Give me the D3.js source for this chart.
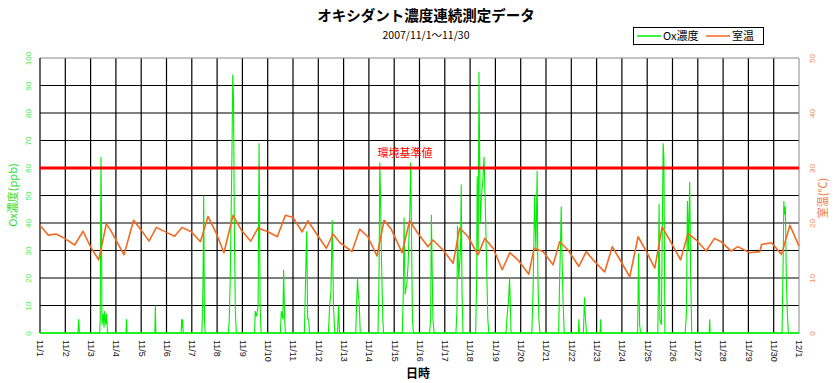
<!DOCTYPE html>
<html><head><meta charset="utf-8">
<script src="https://cdn.jsdelivr.net/npm/d3@7"></script>
<style>
html,body{margin:0;padding:0;background:#fff;}
svg{display:block;font-family:"Noto Sans CJK JP","Liberation Sans",sans-serif;}
</style></head>
<body>
<svg id="chart" width="836" height="383"></svg>
<script>
// ---- data ----
const dayLabels = ["11/1","11/2","11/3","11/4","11/5","11/6","11/7","11/8","11/9","11/10","11/11","11/12","11/13","11/14","11/15","11/16","11/17","11/18","11/19","11/20","11/21","11/22","11/23","11/24","11/25","11/26","11/27","11/28","11/29","11/30","12/1"];
const leftTicks = [0,10,20,30,40,50,60,70,80,90,100];
const rightTicks = [0,10,20,30,40,50];
const standardValue = 60;

// temperature (day offset from 11/1 00:00, °C)
const tempTime = [0,0.32,0.64,0.97,1.37,1.70,2.03,2.32,2.62,2.79,3.32,3.70,4.00,4.31,4.60,5.00,5.32,5.61,5.98,6.34,6.64,6.97,7.27,7.63,7.96,8.33,8.62,9.01,9.38,9.70,10.00,10.36,10.59,10.92,11.32,11.58,11.84,12.33,12.64,12.96,13.32,13.60,13.88,14.31,14.61,14.94,15.34,15.53,15.93,16.33,16.59,16.92,17.31,17.58,17.91,18.27,18.57,18.89,19.32,19.53,19.88,20.28,20.54,20.87,21.30,21.59,21.86,22.32,22.62,22.90,23.31,23.64,23.97,24.30,24.59,24.89,25.32,25.61,25.94,26.33,26.66,26.92,27.32,27.58,28.05,28.45,28.52,28.91,29.31,29.64,30.00];
const tempVal  = [19.6,17.8,18.0,17.2,16.0,18.5,15.4,13.3,19.8,18.7,14.2,20.5,18.7,16.7,19.2,18.3,17.6,19.2,18.4,16.6,21.2,18.1,14.6,21.4,18.7,16.7,19.1,18.4,17.5,21.4,21.0,18.4,20.4,18.1,15.4,18.0,16.5,14.8,18.9,17.5,14.0,20.5,18.9,14.6,20.4,18.1,15.7,16.9,15.1,12.7,19.1,17.5,14.2,17.2,15.4,11.5,14.6,13.3,10.7,15.4,14.8,12.4,16.6,15.1,12.1,14.8,13.3,11.1,15.7,13.5,10.2,17.5,14.8,11.8,19.3,16.9,13.3,18.1,16.9,14.9,17.2,16.6,14.9,15.7,14.6,14.8,16.1,16.4,14.3,19.6,15.8];

// Ox concentration (day offset, ppb)
const oxTime = [0,1.50,1.53,1.56,2.36,2.38,2.41,2.43,2.45,2.50,2.53,2.56,2.60,2.63,2.67,3.40,3.42,3.44,4.54,4.56,4.58,5.58,5.60,5.62,5.64,5.66,6.40,6.44,6.47,6.50,6.53,7.45,7.48,7.52,7.58,7.62,7.65,7.68,7.72,7.76,8.48,8.51,8.56,8.62,8.66,8.70,8.74,9.50,9.54,9.60,9.63,9.67,9.70,10.45,10.50,10.54,10.58,10.62,10.65,11.40,11.45,11.50,11.55,11.60,11.65,11.76,11.80,11.84,12.48,12.52,12.55,12.58,12.62,12.66,13.36,13.40,13.43,13.46,13.50,13.55,13.58,14.32,14.36,14.39,14.43,14.50,14.55,14.62,14.65,14.68,14.72,14.76,15.40,15.44,15.47,15.50,15.53,15.58,16.44,16.48,16.50,16.55,16.62,16.65,16.68,16.72,17.22,17.26,17.28,17.32,17.35,17.40,17.45,17.50,17.55,17.60,17.64,17.70,17.74,18.42,18.47,18.52,18.56,18.59,18.62,19.44,19.49,19.55,19.60,19.65,19.68,19.72,19.76,20.50,20.54,20.58,20.60,20.64,20.68,20.72,21.28,21.30,21.32,21.48,21.52,21.56,21.60,22.14,22.16,22.18,23.62,23.66,23.70,23.74,24.42,24.47,24.50,24.56,24.63,24.66,24.70,25.50,25.55,25.59,25.63,25.68,25.72,25.76,26.45,26.47,26.49,29.33,29.38,29.40,29.43,29.46,29.50,29.54,29.58,30.00];
const oxVal  = [0,0,5,0,0,5,64,43,3,7,2,8,3,7,0,0,5,0,0,10,0,0,5,2,5,0,0,16,50,5,0,0,5,20,60,94,85,40,8,0,0,8,6,10,69,10,0,0,8,5,23,5,0,0,21,37,5,5,0,0,10,15,41,10,0,0,10,0,0,12,20,14,10,0,0,20,62,50,25,5,0,0,15,42,14,18,25,45,62,40,5,0,0,5,43,24,5,0,0,8,39,20,30,54,15,0,0,20,57,30,95,40,50,55,64,47,30,5,0,0,7,12,20,10,0,0,16,50,30,59,20,5,0,0,20,35,46,25,10,0,0,5,0,0,13,5,0,0,5,0,0,29,3,0,0,47,5,3,69,64,0,0,7,48,30,55,20,0,0,5,0,0,30,48,43,46,20,7,0,0];

// ---- layout ----
const svg = d3.select("#chart");
const L = 40, R = 799, T = 58, B = 333;
const x = d3.scaleLinear().domain([0, 30]).range([L, R]);
const yL = d3.scaleLinear().domain([0, 100]).range([B, T]);
const yR = d3.scaleLinear().domain([0, 50]).range([B, T]);
const green = "#00ee00", orange = "#f26a22";

// grid
const grid = svg.append("g");
grid.selectAll("line.v").data(d3.range(1, 30)).join("line")
  .attr("x1", d => x(d)).attr("x2", d => x(d)).attr("y1", T).attr("y2", B)
  .attr("stroke", "#000").attr("stroke-width", 1.2);
grid.selectAll("line.h").data(leftTicks.slice(1, -1)).join("line")
  .attr("x1", L).attr("x2", R).attr("y1", d => yL(d)).attr("y2", d => yL(d))
  .attr("stroke", "#000").attr("stroke-width", 1.2);
// frame
svg.append("line").attr("x1", L).attr("x2", R).attr("y1", T).attr("y2", T).attr("stroke", "#888").attr("stroke-width", 1);
svg.append("line").attr("x1", R).attr("x2", R).attr("y1", T).attr("y2", B).attr("stroke", "#888").attr("stroke-width", 1);
svg.append("line").attr("x1", L).attr("x2", L).attr("y1", T).attr("y2", B).attr("stroke", "#000").attr("stroke-width", 1.2);

// series
const oxData = oxTime.map((t, i) => [t, oxVal[i]]);
const tempData = tempTime.map((t, i) => [t, tempVal[i]]);
svg.append("path").datum(oxData)
  .attr("d", d3.line().x(d => x(d[0])).y(d => yL(d[1])))
  .attr("fill", "none").attr("stroke", green).attr("stroke-width", 1.1);
svg.append("path").datum(tempData)
  .attr("d", d3.line().x(d => x(d[0])).y(d => yR(d[1])))
  .attr("fill", "none").attr("stroke", orange).attr("stroke-width", 1.6)
  .attr("stroke-linejoin", "round");

// standard line
svg.append("line").attr("x1", L).attr("x2", R)
  .attr("y1", yL(standardValue)).attr("y2", yL(standardValue))
  .attr("stroke", "#ff0000").attr("stroke-width", 3);
svg.append("text").attr("x", 405).attr("y", yL(standardValue) - 11)
  .attr("text-anchor", "middle").attr("fill", "#ff0000").attr("font-size", 11)
  .text("環境基準値");

// bottom axis line
svg.append("line").attr("x1", L).attr("x2", R).attr("y1", B).attr("y2", B).attr("stroke", green).attr("stroke-width", 1.5);

// x axis labels
const xAxis = d3.axisBottom(x).tickValues(d3.range(0, 31)).tickSize(0).tickFormat(d => dayLabels[d]);
const gx = svg.append("g").attr("transform", `translate(0,${B})`).call(xAxis);
gx.select(".domain").remove();
gx.selectAll("text")
  .attr("transform", "translate(0,7) rotate(90)")
  .attr("x", 0).attr("y", 0).attr("dy", "0.35em")
  .attr("text-anchor", "start")
  .attr("font-size", 9).attr("font-family", "Liberation Sans, Arial, sans-serif").attr("fill", "#111");

// left axis labels
const yAxisL = d3.axisLeft(yL).tickValues(leftTicks).tickSize(0);
const gl = svg.append("g").attr("transform", `translate(${L},0)`).call(yAxisL);
gl.select(".domain").remove();
gl.selectAll("text")
  .attr("transform", "translate(-12,0) rotate(-90)")
  .attr("x", 0).attr("y", 0).attr("dy", "0.35em")
  .attr("text-anchor", "middle")
  .attr("font-size", 8).attr("font-family", "Liberation Sans, Arial, sans-serif").attr("fill", "#44e844");

// right axis labels
const yAxisR = d3.axisRight(yR).tickValues(rightTicks).tickSize(0);
const gr = svg.append("g").attr("transform", `translate(${R},0)`).call(yAxisR);
gr.select(".domain").remove();
gr.selectAll("text")
  .attr("transform", "translate(13,0) rotate(-90)")
  .attr("x", 0).attr("y", 0).attr("dy", "0.35em")
  .attr("text-anchor", "middle")
  .attr("font-size", 8).attr("font-family", "Liberation Sans, Arial, sans-serif").attr("fill", "#f08a55");

// axis titles
svg.append("text").attr("transform", "translate(13,195) rotate(-90)")
  .attr("text-anchor", "middle").attr("dy", "0.35em").attr("font-size", 11).attr("fill", "#33dd33")
  .text("Ox濃度(ppb)");
svg.append("text").attr("transform", "translate(823,198) rotate(-90)")
  .attr("text-anchor", "middle").attr("dy", "0.35em").attr("font-size", 11).attr("fill", "#f07a40")
  .text("室温(℃)");
svg.append("text").attr("x", 418).attr("y", 378)
  .attr("text-anchor", "middle").attr("font-size", 12).attr("font-weight", "bold").attr("fill", "#000")
  .text("日時");

// title
svg.append("text").attr("x", 426).attr("y", 21)
  .attr("text-anchor", "middle").attr("font-size", 14.5).attr("font-weight", "bold").attr("fill", "#000")
  .text("オキシダント濃度連続測定データ");
svg.append("text").attr("x", 426).attr("y", 39)
  .attr("text-anchor", "middle").attr("font-size", 10.5).attr("fill", "#000")
  .text("2007/11/1～11/30");

// legend
const lg = svg.append("g");
lg.append("rect").attr("x", 633.5).attr("y", 27.5).attr("width", 130).attr("height", 17)
  .attr("fill", "#fff").attr("stroke", "#000").attr("stroke-width", 1);
const legendItems = [{name: "Ox濃度", color: green, x: 637}, {name: "室温", color: orange, x: 706}];
legendItems.forEach(it => {
  lg.append("line").attr("x1", it.x).attr("x2", it.x + 24).attr("y1", 36).attr("y2", 36)
    .attr("stroke", it.color).attr("stroke-width", 1.5);
  lg.append("text").attr("x", it.x + 26).attr("y", 36).attr("dy", "0.35em")
    .attr("font-size", 11).attr("fill", "#000").text(it.name);
});
</script>
</body></html>
